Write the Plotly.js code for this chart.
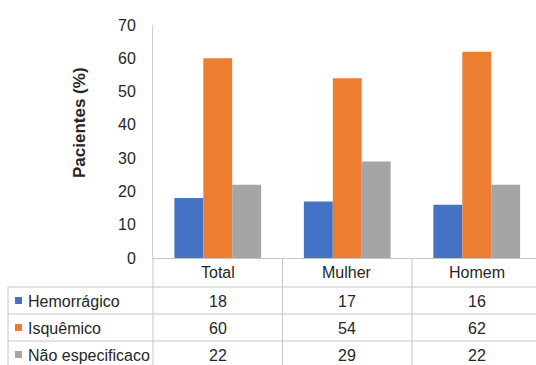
<!DOCTYPE html>
<html>
<head>
<meta charset="utf-8">
<script src="https://cdn.plot.ly/plotly-3.0.1.min.js"></script>
<style>
html, body { margin:0; padding:0; overflow:hidden; background:#fff; }
#chart { width:545px; height:370px; }
</style>
</head>
<body>
<div id="chart"></div>
<script>
var categories = ['Total', 'Mulher', 'Homem'];
var seriesNames = ['Hemorrágico', 'Isquêmico', 'Não especificaco'];
var hemorragico = [18, 17, 16];
var isquemico = [60, 54, 62];
var naoEspecificado = [22, 29, 22];
var yTicks = [0, 10, 20, 30, 40, 50, 60, 70];
var colors = ['#4472C4', '#ED7D31', '#A5A5A5'];

var seriesValues = [hemorragico, isquemico, naoEspecificado];

var W = 545, H = 370;
var mL = 153, mR = 3, mT = 25, mB = H - 258;
var plotW = W - mL - mR, plotH = H - mT - mB;
function px2py(py) { return (258 - py) / plotH; }
function px2px(px) { return (px - mL) / plotW; }

var traces = seriesValues.map(function (vals, i) {
  return {
    type: 'bar',
    name: seriesNames[i],
    x: categories,
    y: vals,
    marker: { color: colors[i], line: { width: 0 } },
    hoverinfo: 'none'
  };
});

var textColor = '#262626';
var lineColor = '#c6c6c6';
var fnt = { family: 'Arial, "Liberation Sans", sans-serif', size: 16, color: textColor };

var annotations = [];
// y-axis title
annotations.push({
  xref: 'paper', yref: 'paper', x: px2px(80), y: px2py(123),
  text: '<b>Pacientes (%)</b>', textangle: -90, showarrow: false,
  xanchor: 'center', yanchor: 'middle',
  font: { family: 'Arial, "Liberation Sans", sans-serif', size: 17, color: textColor }
});
// header row
categories.forEach(function (c) {
  annotations.push({ xref: 'x', yref: 'paper', x: c, y: px2py(272), text: c,
    showarrow: false, xanchor: 'center', yanchor: 'middle', font: fnt });
});
var rowY = [301, 328, 355];
seriesNames.forEach(function (n, i) {
  annotations.push({ xref: 'paper', yref: 'paper', x: px2px(26), y: px2py(rowY[i]), text: n,
    showarrow: false, xanchor: 'left', yanchor: 'middle', font: fnt });
  categories.forEach(function (c, j) {
    annotations.push({ xref: 'x', yref: 'paper', x: c, y: px2py(rowY[i]), text: String(seriesValues[i][j]),
      showarrow: false, xanchor: 'center', yanchor: 'middle', font: fnt });
  });
});

var shapes = [];
// legend squares
rowY.forEach(function (y, i) {
  shapes.push({ type: 'rect', xref: 'paper', yref: 'paper',
    x0: px2px(15), x1: px2px(22), y0: px2py(y - 4), y1: px2py(y + 3),
    fillcolor: colors[i], line: { width: 0 } });
});
// horizontal table lines
[287, 314, 341, 368].forEach(function (y) {
  shapes.push({ type: 'line', xref: 'paper', yref: 'paper',
    x0: px2px(8), x1: px2px(W), y0: px2py(y), y1: px2py(y),
    line: { color: lineColor, width: 1 } });
});
// vertical table lines
shapes.push({ type: 'line', xref: 'paper', yref: 'paper', x0: px2px(8), x1: px2px(8),
  y0: px2py(287), y1: px2py(370), line: { color: lineColor, width: 1 } });
shapes.push({ type: 'line', xref: 'paper', yref: 'paper', x0: 0, x1: 0,
  y0: 0, y1: px2py(370), line: { color: lineColor, width: 1 } });
[0.5, 1.5, 2.5].forEach(function (xv) {
  shapes.push({ type: 'line', xref: 'x', yref: 'paper', x0: xv, x1: xv,
    y0: 0, y1: px2py(370), line: { color: lineColor, width: 1 } });
});

var layout = {
  width: W, height: H,
  margin: { l: mL, r: mR, t: mT, b: mB, pad: 0 },
  paper_bgcolor: '#fff', plot_bgcolor: '#fff',
  showlegend: false,
  barmode: 'group', bargap: 0.33, bargroupgap: 0,
  xaxis: { type: 'category', showticklabels: false, showline: true, linecolor: lineColor,
    linewidth: 1, ticks: '', showgrid: false, zeroline: false, fixedrange: true },
  yaxis: { range: [0, 70], tickvals: yTicks, ticktext: yTicks.map(String),
    showline: true, linecolor: '#d0d0d0', linewidth: 1, showgrid: false, zeroline: false,
    ticks: '', ticklabelstandoff: 13,
    tickfont: { family: 'Arial, "Liberation Sans", sans-serif', size: 16, color: textColor } },
  annotations: annotations,
  shapes: shapes
};

Plotly.newPlot('chart', traces, layout, { displayModeBar: false, staticPlot: true });
</script>
</body>
</html>
